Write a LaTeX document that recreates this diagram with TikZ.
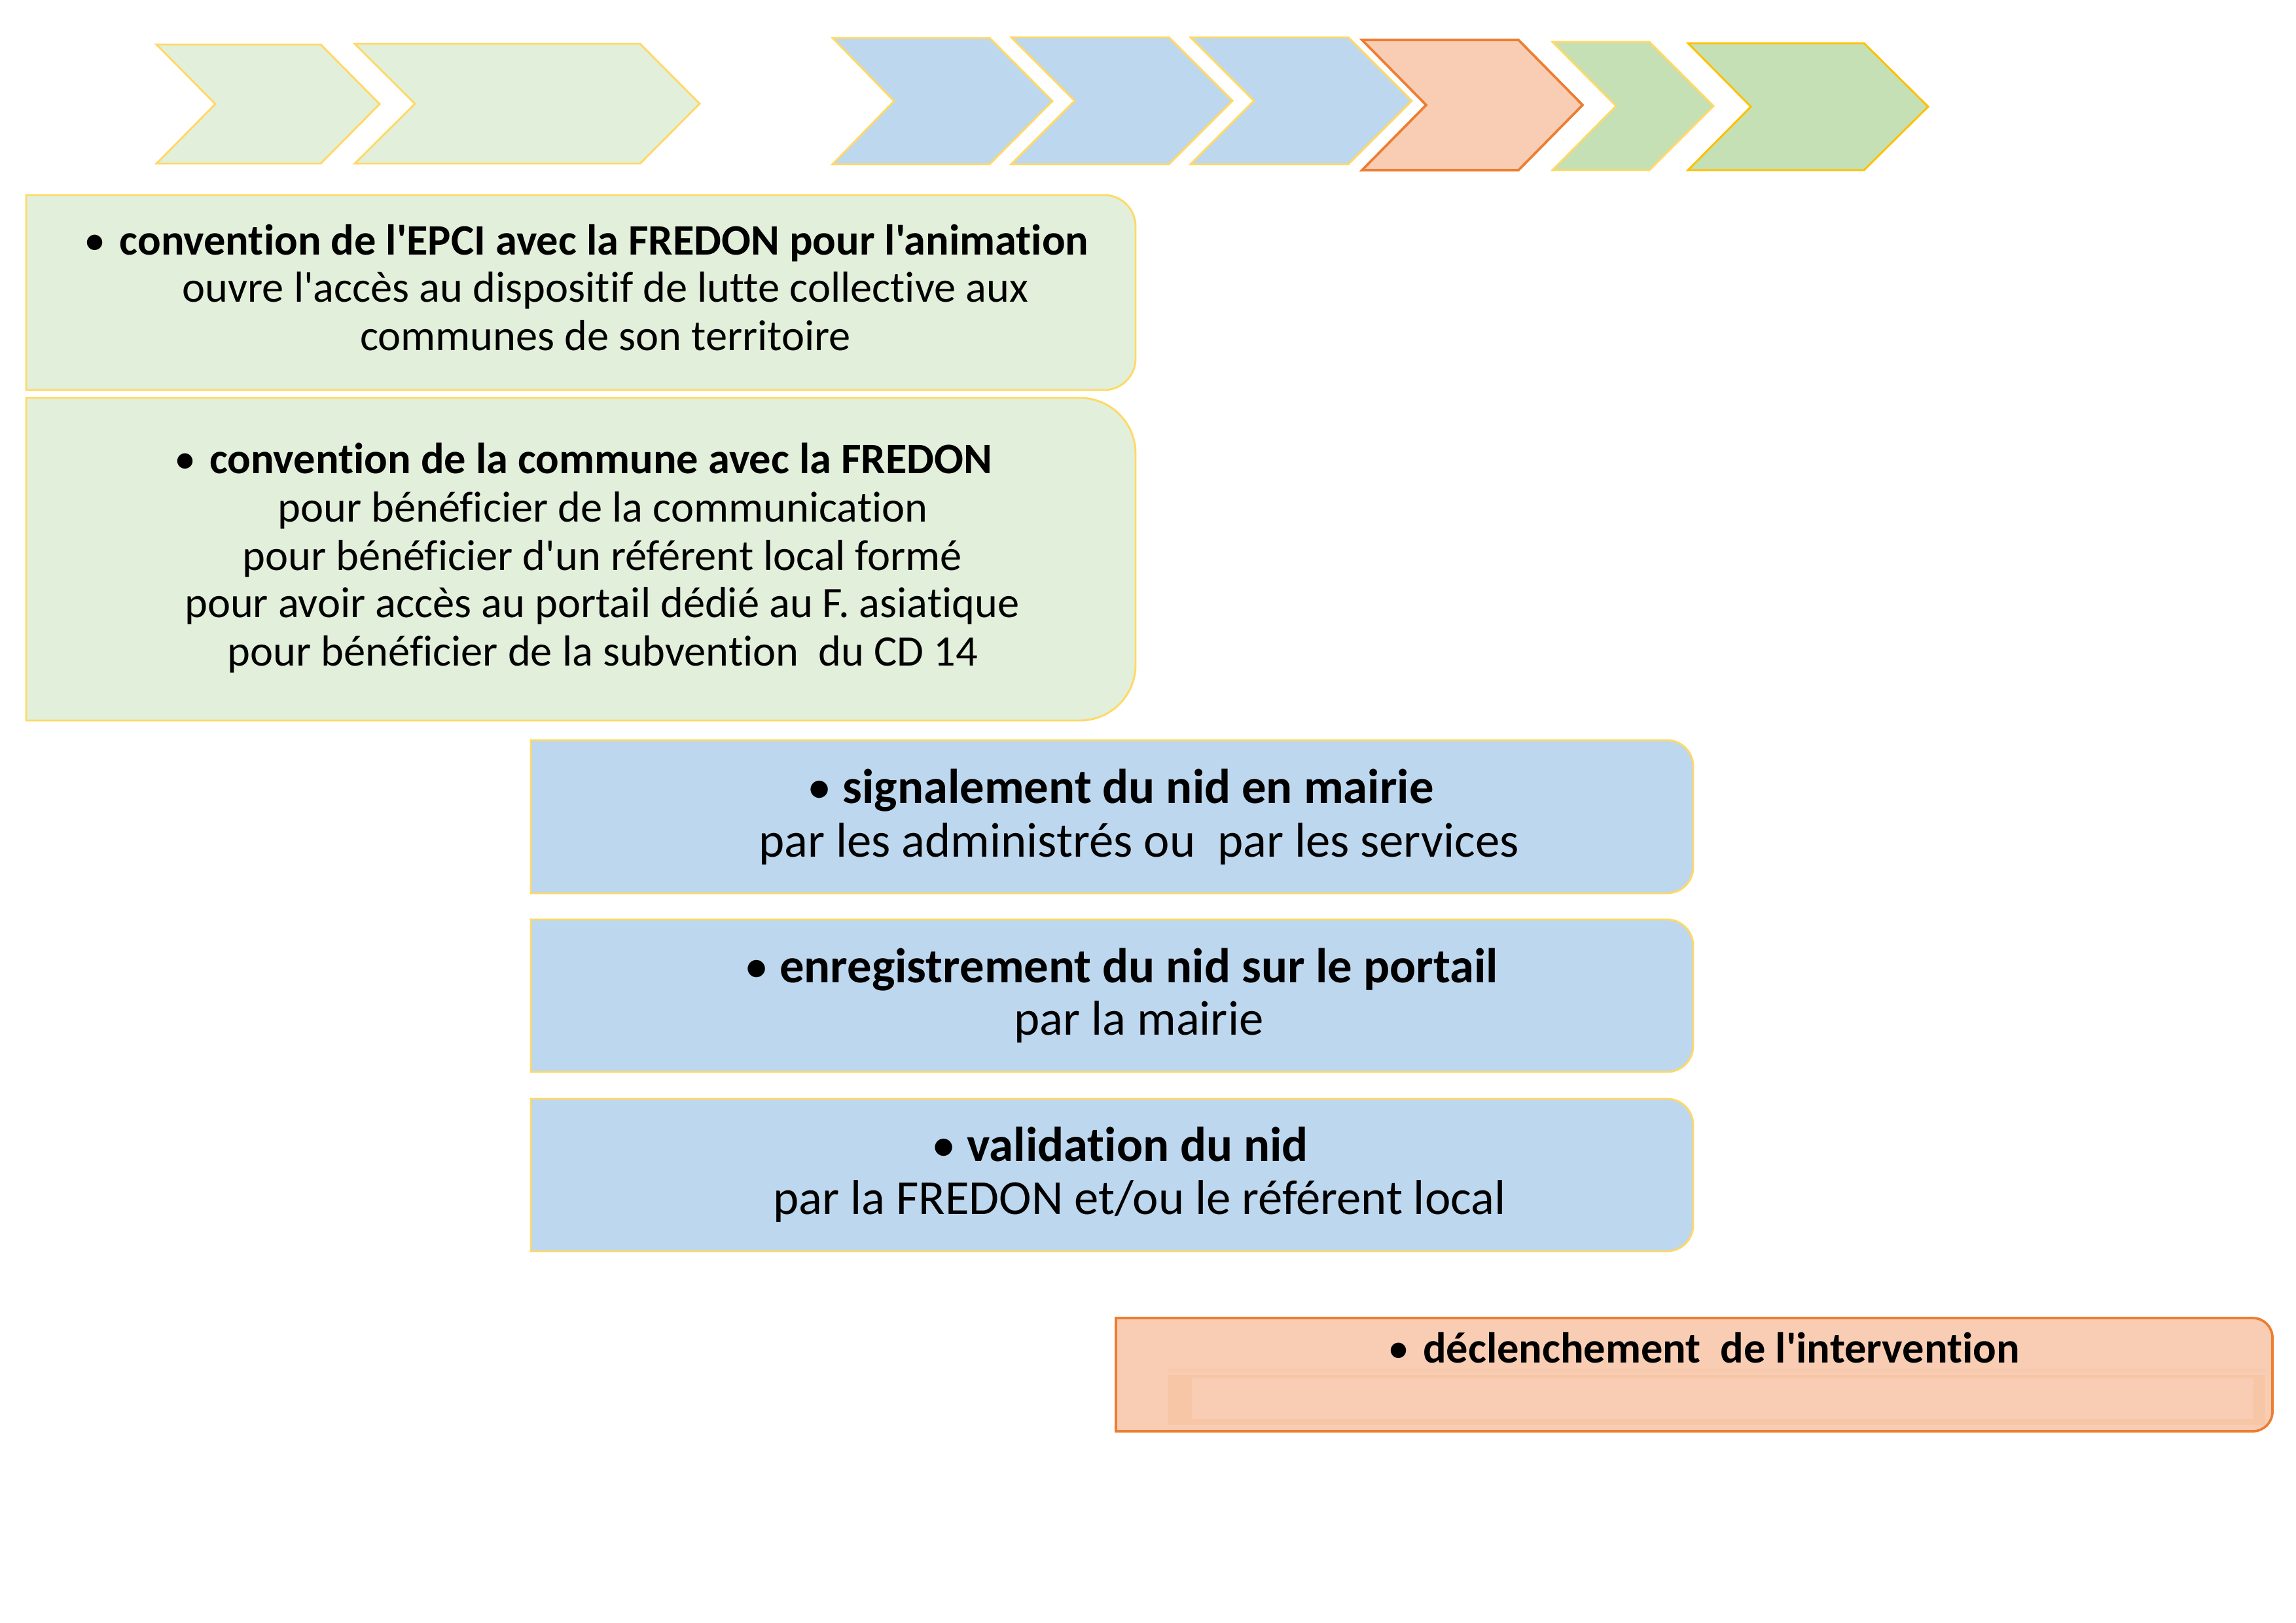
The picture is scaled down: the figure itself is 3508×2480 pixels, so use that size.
\documentclass[tikz,border=0pt]{standalone}
\usepackage{fontspec}
\newfontfamily\calfont{Carlito}[Ligatures=NoCommon]
\definecolor{lgreen}{HTML}{E2EFDA}
\definecolor{gold}{HTML}{FFD966}
\definecolor{lblue}{HTML}{BDD7EE}
\definecolor{lorange}{HTML}{F8CDB3}
\definecolor{dorange}{HTML}{ED7D31}
\definecolor{mgreen}{HTML}{C5E0B4}
\definecolor{amber}{HTML}{FFC000}
\definecolor{oframe}{HTML}{F6C6A7}
\definecolor{ostripe}{HTML}{F7C9AC}
% chevron: style, left, notch, right, tip, top, bottom
\newcommand{\chev}[7]{%
  \draw[#1] (#2,#6) -- (#4,#6) -- (#5,{(#6+#7)/2}) -- (#4,#7) -- (#2,#7) -- (#3,{(#6+#7)/2}) -- cycle;}
% box with rounded right corners: style, x1, y1, x2, y2, r
\newcommand{\rbox}[6]{%
  \draw[#1] (#2,#3) -- ({#4-#6},#3) arc[start angle=270,end angle=360,radius=#6]
    -- (#4,{#5-#6}) arc[start angle=0,end angle=90,radius=#6] -- (#2,#5) -- cycle;}
\newcommand{\bul}[1]{\llap{{\mdseries\textbullet}\hspace{#1}}}
\tikzset{
  gchev/.style={fill=lgreen, draw=gold, line width=0.7pt},
  bchev/.style={fill=lblue, draw=gold, line width=0.7pt},
  ochev/.style={fill=lorange, draw=dorange, line width=0.9pt},
  mchev/.style={fill=mgreen, draw=gold, line width=0.7pt},
  achev/.style={fill=mgreen, draw=amber, line width=0.7pt},
  gbox/.style={fill=lgreen, draw=gold, line width=0.7pt},
  bbox/.style={fill=lblue, draw=gold, line width=0.7pt},
  obox/.style={fill=lorange, draw=dorange, line width=0.9pt},
  txt/.style={anchor=base, inner sep=0pt, text=black},
  gtxt/.style={txt, font=\calfont\fontsize{16pt}{18pt}\selectfont},
  btxt/.style={txt, font=\calfont\fontsize{18pt}{20pt}\selectfont},
  otxt/.style={txt, font=\calfont\fontsize{16pt}{18pt}\selectfont\bfseries},
}
\begin{document}
\begin{tikzpicture}[x=0.2409pt, y=-0.2409pt]
\useasboundingbox (0,0) rectangle (3508,2480);
% chevrons
\chev{gchev}{239}{329}{490}{580}{68}{250}
\chev{gchev}{542}{634}{978}{1069}{67}{250}
\chev{bchev}{1272}{1366}{1512}{1608}{58}{251}
\chev{bchev}{1545}{1642}{1786}{1883}{57}{251}
\chev{bchev}{1819}{1916}{2060}{2157}{57}{251}
\chev{ochev}{2081}{2179}{2320}{2418}{61}{260}
\chev{mchev}{2372}{2469}{2520}{2618}{64}{260}
\chev{achev}{2579}{2675}{2848}{2946}{66}{260}
% boxes
\rbox{gbox}{40}{298}{1735}{596}{48}
\rbox{gbox}{40}{608}{1735}{1101}{85}
\rbox{bbox}{811}{1131}{2587}{1365}{40}
\rbox{bbox}{811}{1405}{2587}{1638}{40}
\rbox{bbox}{811}{1679}{2587}{1912}{40}
\rbox{obox}{1705}{2014}{3472}{2187}{30}
\fill[ostripe] (1785,2092) rectangle (3461,2097);
\fill[oframe] (1785,2101) rectangle (3461,2177);
\fill[lorange] (1821,2106) rectangle (3443,2168);
% texts
\node[gtxt] (g1a) at (923,390) {\bfseries\bul{5pt}convention de l'EPCI avec la FREDON pour l'animation};
\node[gtxt] (g1b) at (925,462) {ouvre l'accès au dispositif de lutte collective aux};
\node[gtxt] (g1c) at (925,536) {communes de son territoire};
\node[gtxt] (g2a) at (918,724) {\bfseries\bul{5pt}convention de la commune avec la FREDON};
\node[gtxt] (g2b) at (921,798) {pour bénéficier de la communication};
\node[gtxt] (g2c) at (920,872) {pour bénéficier d'un référent local formé};
\node[gtxt] (g2d) at (920,944) {pour avoir accès au portail dédié au F. asiatique};
\node[gtxt] (g2e) at (921,1018) {pour bénéficier de la subvention~ du CD 14};
\node[btxt] (b1a) at (1739,1227) {\bfseries\bul{4pt}signalement du nid en mairie};
\node[btxt] (b1b) at (1740,1309) {par les administrés ou~ par les services};
\node[btxt] (b2a) at (1740,1501) {\bfseries\bul{4pt}enregistrement du nid sur le portail};
\node[btxt] (b2b) at (1740,1581) {par la mairie};
\node[btxt] (b3a) at (1738,1774) {\bfseries\bul{4pt}validation du nid};
\node[btxt] (b3b) at (1741,1855) {par la FREDON et/ou le référent local};
\node[otxt] (o1) at (2630,2082) {\bul{5pt}déclenchement~ de l'intervention};
\end{tikzpicture}
\end{document}
